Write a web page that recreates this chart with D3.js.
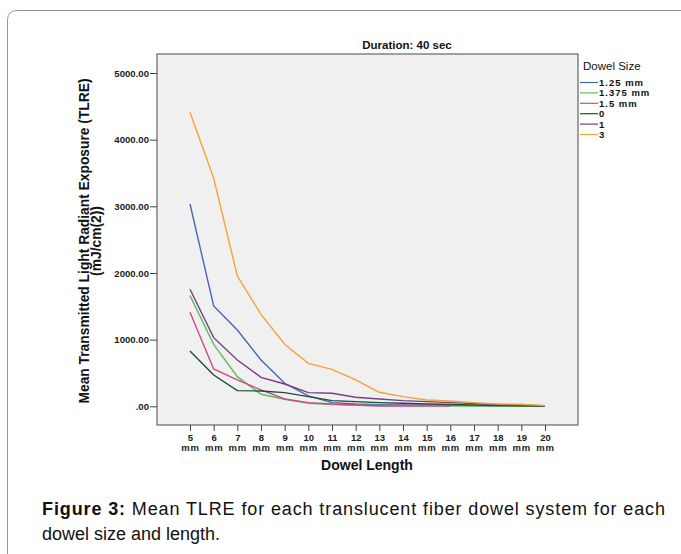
<!DOCTYPE html>
<html>
<head>
<meta charset="utf-8">
<script src="https://cdn.jsdelivr.net/npm/d3@7"></script>
<style>
  body { margin: 0; background: #fff; }
  svg { display: block; font-family: "Liberation Sans", Arial, sans-serif; }
</style>
</head>
<body>
<svg id="chart" width="681" height="554"></svg>
<script>
// dowel length (mm) along x
const lengths = [5, 6, 7, 8, 9, 10, 11, 12, 13, 14, 15, 16, 17, 18, 19, 20];
const sizes = ["1.25 mm", "1.375 mm", "1.5 mm", "0", "1", "3"];
const colors = ["#4a64b4", "#5cbf5c", "#cc4a86", "#1f4d30", "#7a3c88", "#f4a23a"];
const yTicks = [0, 1000, 2000, 3000, 4000, 5000];

// mean TLRE values
const tlre125 = [3035, 1505, 1145, 695, 345, 155, 55, 35, 25, 20, 15, 12, 10, 8, 5, 3];
const tlre1375 = [1660, 930, 445, 180, 105, 45, 25, 15, 12, 10, 8, 6, 5, 4, 3, 2];
const tlre15 = [1410, 560, 395, 245, 110, 55, 35, 20, 5, 4, 3, 2];
const tlre0 = [830, 470, 235, 230, 205, 145, 85, 70, 55, 45, 35, 27, 20, 12, 8, 5];
const tlre1 = [1755, 1030, 695, 435, 335, 205, 195, 135, 110, 85, 70, 55, 40, 27, 20, 10];
const tlre3 = [4410, 3420, 1955, 1380, 930, 645, 555, 395, 210, 145, 95, 80, 55, 35, 30, 10];
const allSeries = [tlre125, tlre1375, tlre15, tlre0, tlre1, tlre3];

const svg = d3.select("#chart");

// outer figure frame (rounded corner)
svg.append("path")
  .attr("d", "M7.5,554 L7.5,20 Q7.5,10.5 17,10.5 L681,10.5")
  .attr("fill", "none")
  .attr("stroke", "#999")
  .attr("stroke-width", 1);

const box = { left: 157, right: 578, top: 54, bottom: 425 };

const x = d3.scaleLinear().domain([5, 20]).range([190, 545]);
const y = d3.scaleLinear().domain([0, 5000]).range([406.3, 73]);

svg.append("rect")
  .attr("x", box.left).attr("y", box.top)
  .attr("width", box.right - box.left).attr("height", box.bottom - box.top)
  .attr("fill", "#f0f0f0").attr("stroke", "#666").attr("stroke-width", 1.2);

// y axis
const yAxis = svg.append("g")
  .attr("transform", `translate(${box.left},0)`)
  .call(d3.axisLeft(y).tickValues(yTicks).tickSize(7).tickFormat(d => d === 0 ? ".00" : d3.format(".2f")(d)));
yAxis.select(".domain").remove();
yAxis.selectAll("line").attr("stroke", "#444");
yAxis.selectAll("text")
  .attr("font-family", "Liberation Sans, Arial, sans-serif")
  .attr("font-size", 9.6).attr("font-weight", "bold").attr("fill", "#222").attr("dx", 2);

// x axis
const xAxis = svg.append("g")
  .attr("transform", `translate(0,${box.bottom})`)
  .call(d3.axisBottom(x).tickValues(lengths).tickSize(6).tickFormat(""));
xAxis.select(".domain").remove();
xAxis.selectAll("line").attr("stroke", "#444");
xAxis.selectAll(".tick").append("text")
  .attr("y", 16).attr("text-anchor", "middle")
  .attr("font-size", 9.5).attr("font-weight", "bold").attr("fill", "#222")
  .text(d => d);
xAxis.selectAll(".tick").append("text")
  .attr("y", 26).attr("text-anchor", "middle")
  .attr("font-size", 9.5).attr("font-weight", "bold").attr("fill", "#222")
  .attr("letter-spacing", 0.8)
  .text("mm");

// lines
const line = d3.line().x((d, i) => x(lengths[i])).y(d => y(d));
svg.append("g")
  .selectAll("path")
  .data(allSeries)
  .join("path")
  .attr("d", d => line(d))
  .attr("fill", "none")
  .attr("stroke", (d, i) => colors[i])
  .attr("stroke-width", 1.4);

// titles
svg.append("text")
  .attr("x", 407).attr("y", 49).attr("text-anchor", "middle")
  .attr("font-size", 11.5).attr("font-weight", "bold").attr("fill", "#111")
  .text("Duration: 40 sec");

svg.append("text")
  .attr("x", 367).attr("y", 470).attr("text-anchor", "middle")
  .attr("font-size", 14).attr("font-weight", "bold").attr("fill", "#111")
  .text("Dowel Length");

const yTitle = svg.append("text")
  .attr("transform", "translate(89,241) rotate(-90)")
  .attr("text-anchor", "middle")
  .attr("font-size", 13.8).attr("font-weight", "bold").attr("fill", "#111");
yTitle.append("tspan").attr("x", 0).attr("y", 0).text("Mean Transmitted Light Radiant Exposure (TLRE)");
yTitle.append("tspan").attr("x", 0).attr("y", 12).text("(mJ/cm(2))");

// legend
const legend = svg.append("g").attr("transform", "translate(580,0)");
legend.append("text")
  .attr("x", 3).attr("y", 70)
  .attr("font-size", 11.5).attr("fill", "#111")
  .text("Dowel Size");
const item = legend.selectAll("g.item")
  .data(sizes)
  .join("g")
  .attr("class", "item")
  .attr("transform", (d, i) => `translate(0,${82.5 + i * 10.4})`);
item.append("line")
  .attr("x1", 0).attr("x2", 18).attr("y1", 0).attr("y2", 0)
  .attr("stroke", (d, i) => colors[i]).attr("stroke-width", 1.2);
item.append("text")
  .attr("x", 19).attr("y", 3.5)
  .attr("font-size", 9.5).attr("font-weight", "bold").attr("fill", "#111")
  .attr("letter-spacing", 1)
  .text(d => d);

// caption, first line justified to the full width
const cap = svg.append("text")
  .attr("x", 42).attr("y", 515)
  .attr("font-size", 18).attr("fill", "#111")
  .attr("textLength", 623).attr("lengthAdjust", "spacing");
cap.append("tspan").attr("font-weight", "bold").text("Figure 3:");
cap.append("tspan").text(" Mean TLRE for each translucent fiber dowel system for each");
svg.append("text")
  .attr("x", 42).attr("y", 540)
  .attr("font-size", 18).attr("fill", "#111")
  .text("dowel size and length.");
</script>
</body>
</html>
